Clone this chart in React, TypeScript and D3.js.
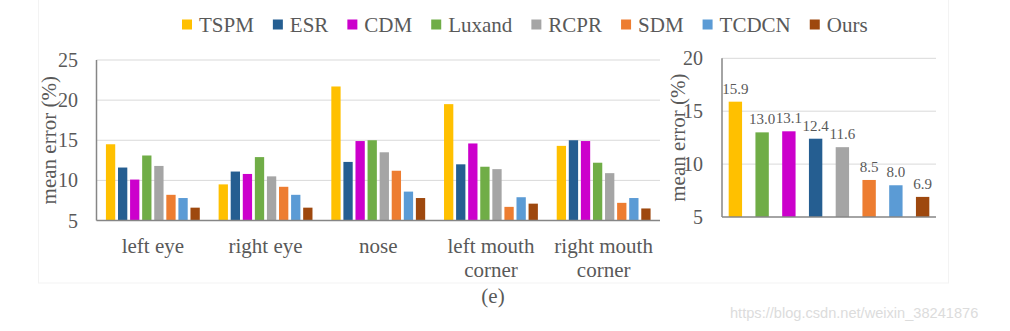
import React from "react";
import * as d3 from "d3";

const series = ["TSPM", "ESR", "CDM", "Luxand", "RCPR", "SDM", "TCDCN", "Ours"];
const seriesColors = ["#FFC000", "#255E91", "#CC00CC", "#70AD47", "#A5A5A5", "#ED7D31", "#5B9BD5", "#9E480E"];
const categories = ["left eye", "right eye", "nose", "left mouth\ncorner", "right mouth\ncorner"];

// values per series, in category order
const TSPM = [14.5, 9.5, 21.7, 19.5, 14.3];
const ESR = [11.6, 11.1, 12.3, 12.0, 15.0];
const CDM = [10.1, 10.8, 14.9, 14.6, 14.9];
const Luxand = [13.1, 12.9, 15.0, 11.7, 12.2];
const RCPR = [11.8, 10.5, 13.5, 11.4, 10.9];
const SDM = [8.2, 9.2, 11.2, 6.7, 7.2];
const TCDCN = [7.8, 8.2, 8.6, 7.9, 7.8];
const Ours = [6.6, 6.6, 7.8, 7.1, 6.5];
const leftValues = [TSPM, ESR, CDM, Luxand, RCPR, SDM, TCDCN, Ours];
const leftTicks = [5, 10, 15, 20, 25];

const overallMethods = ["TSPM", "Luxand", "CDM", "ESR", "RCPR", "SDM", "TCDCN", "Ours"];
const overallValues = [15.9, 13.0, 13.1, 12.4, 11.6, 8.5, 8.0, 6.9];
const rightTicks = [5, 10, 15, 20];

const yTitle = "mean error (%)";
const caption = "(e)";
const watermark = "https://blog.csdn.net/weixin_38241876";

const SERIF = '"Liberation Serif", "Times New Roman", serif';
const TXT = "#595959";
const GRID = "#d9d9d9";
const AXIS = "#868686";

function measure(text: string, font: string): number {
  if (typeof document === "undefined") return text.length * 10;
  const c = document.createElement("canvas");
  const ctx = c.getContext("2d");
  if (!ctx) return text.length * 10;
  ctx.font = font;
  return ctx.measureText(text).width;
}

export default function App() {
  const W = 1010, H = 331;
  const colorOf = d3.scaleOrdinal<string, string>().domain(series).range(seriesColors);

  // left chart
  const lx0 = 96.5, lx1 = 660, ly0 = 220.5, ly1 = 60;
  const xg = d3.scaleBand<string>().domain(categories).range([lx0, lx1]).padding(0);
  const xs = d3.scaleBand<string>().domain(series).range([0, xg.bandwidth()]).paddingInner(0.23).paddingOuter(0.78);
  const yl = d3.scaleLinear().domain([5, 25]).range([ly0, ly1]);

  // right chart
  const rx0 = 722, rx1 = 936, ry0 = 217, ry1 = 58.3;
  const xr = d3.scaleBand<string>().domain(overallMethods).range([rx0, rx1]).paddingInner(0.5).paddingOuter(0.25);
  const yr = d3.scaleLinear().domain([5, 20]).range([ry0, ry1]);

  // legend layout
  const widths = series.map((s) => measure(s, '21px "Liberation Serif"'));
  const gap = 19;
  let cur = 182;
  const legendX = widths.map((w) => {
    const x = cur;
    cur += 17 + w + gap;
    return x;
  });

  return (
    <svg width={W} height={H} style={{ position: "absolute", left: 0, top: 0, background: "#fff" }}>
      <rect x={38.5} y={-1} width={910} height={284} fill="none" stroke="#f3f3f3" />

      {/* legend */}
      {series.map((s, i) => (
        <g key={s}>
          <rect x={legendX[i]} y={19.5} width={10} height={10} fill={colorOf(s)} />
          <text x={legendX[i] + 17} y={31.5} fontFamily={SERIF} fontSize={21} fill={TXT}>
            {s}
          </text>
        </g>
      ))}

      {/* left grid */}
      {leftTicks.slice(1).map((t) => (
        <line key={t} x1={lx0} x2={lx1} y1={yl(t)} y2={yl(t)} stroke={GRID} strokeWidth={1} />
      ))}
      {leftTicks.map((t) => (
        <text key={t} x={78} y={yl(t)} dy="0.35em" textAnchor="end" fontFamily={SERIF} fontSize={20} fill={TXT}>
          {t}
        </text>
      ))}
      {/* left bars */}
      {categories.map((c, ci) => (
        <g key={c} transform={`translate(${xg(c)},0)`}>
          {series.map((s, si) => {
            const v = leftValues[si][ci];
            return (
              <rect key={s} x={xs(s)} y={yl(v)} width={xs.bandwidth()} height={yl(5) - yl(v)} fill={colorOf(s)} />
            );
          })}
        </g>
      ))}
      <line x1={lx0} x2={lx0} y1={ly1} y2={ly0} stroke={AXIS} strokeWidth={1.5} />
      <line x1={lx0} x2={lx1} y1={ly0} y2={ly0} stroke={AXIS} strokeWidth={1.5} />
      {categories.map((c) => {
        const lines = c.split("\n");
        const cx = (xg(c) || 0) + xg.bandwidth() / 2;
        return lines.map((ln, li) => (
          <text key={c + li} x={cx} y={252.5 + li * 24} textAnchor="middle" fontFamily={SERIF} fontSize={21} fill={TXT}>
            {ln}
          </text>
        ));
      })}
      <text
        transform={`translate(56,${(ly0 + ly1) / 2}) rotate(-90)`}
        textAnchor="middle"
        fontFamily={SERIF}
        fontSize={21}
        fill={TXT}
      >
        {yTitle}
      </text>

      {/* right chart */}
      {rightTicks.slice(1).map((t) => (
        <line key={t} x1={rx0} x2={rx1} y1={yr(t)} y2={yr(t)} stroke={GRID} strokeWidth={1} />
      ))}
      {rightTicks.map((t) => (
        <text key={t} x={703} y={yr(t)} dy="0.35em" textAnchor="end" fontFamily={SERIF} fontSize={20} fill={TXT}>
          {t}
        </text>
      ))}
      {overallMethods.map((m, i) => {
        const v = overallValues[i];
        const x = xr(m) || 0;
        return (
          <g key={m}>
            <rect x={x} y={yr(v)} width={xr.bandwidth()} height={yr(5) - yr(v)} fill={colorOf(m)} />
            <text x={x + xr.bandwidth() / 2} y={yr(v) - 8} textAnchor="middle" fontFamily={SERIF} fontSize={15} fill={TXT}>
              {v.toFixed(1)}
            </text>
          </g>
        );
      })}
      <line x1={rx0} x2={rx0} y1={ry1} y2={ry0} stroke={AXIS} strokeWidth={1.5} />
      <line x1={rx0} x2={rx1} y1={ry0} y2={ry0} stroke={AXIS} strokeWidth={1.5} />
      <text
        transform={`translate(685,${(ry0 + ry1) / 2}) rotate(-90)`}
        textAnchor="middle"
        fontFamily={SERIF}
        fontSize={21}
        fill={TXT}
      >
        {yTitle}
      </text>

      <text x={493} y={303} textAnchor="middle" fontFamily={SERIF} fontSize={21} fill={TXT}>
        {caption}
      </text>
      <text x={730} y={318} fontFamily='"Liberation Sans", Arial, sans-serif' fontSize={14.6} fill="#dcdcdc">
        {watermark}
      </text>
    </svg>
  );
}
